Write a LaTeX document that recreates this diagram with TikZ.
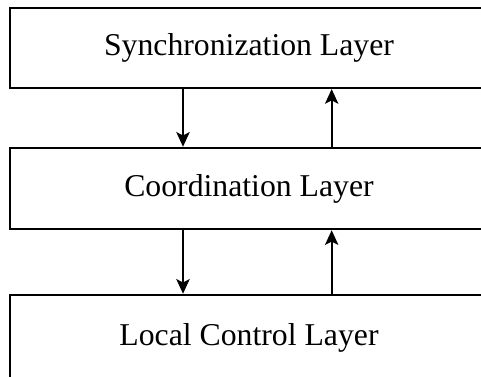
\documentclass[tikz,border=0pt]{standalone}
\usepackage{fontspec}
\setmainfont{Liberation Serif}
\usepackage{tikz}
\usetikzlibrary{arrows.meta}

\begin{document}
\begin{tikzpicture}[x=0.75pt, y=-0.75pt,
  layer/.style={draw, line width=1.6pt, minimum width=358.5pt, minimum height=60pt, inner sep=0pt, fill=white, font=\fontsize{23.8}{28}\selectfont},
  arr/.style={-{Stealth[length=11pt, width=10pt, inset=2.5pt]}, line width=1.4pt}]
\useasboundingbox (0,0) rectangle (481,376);
\clip (0,0) rectangle (481,376);
\node[layer] (sync) at (249,48) {Synchronization Layer};
\node[layer, minimum height=61pt] (coord) at (249,188.5) {Coordination Layer};
\node[layer, minimum height=64pt] (local) at (249,337.5) {Local Control Layer};
\draw[arr] ([xshift=-49.5pt]sync.south) -- ([xshift=-49.5pt]coord.north);
\draw[arr] ([xshift=62pt]coord.north) -- ([xshift=62pt]sync.south);
\draw[arr] ([xshift=-49.5pt]coord.south) -- ([xshift=-49.5pt]local.north);
\draw[arr] ([xshift=62pt]local.north) -- ([xshift=62pt]coord.south);
\end{tikzpicture}
\end{document}
